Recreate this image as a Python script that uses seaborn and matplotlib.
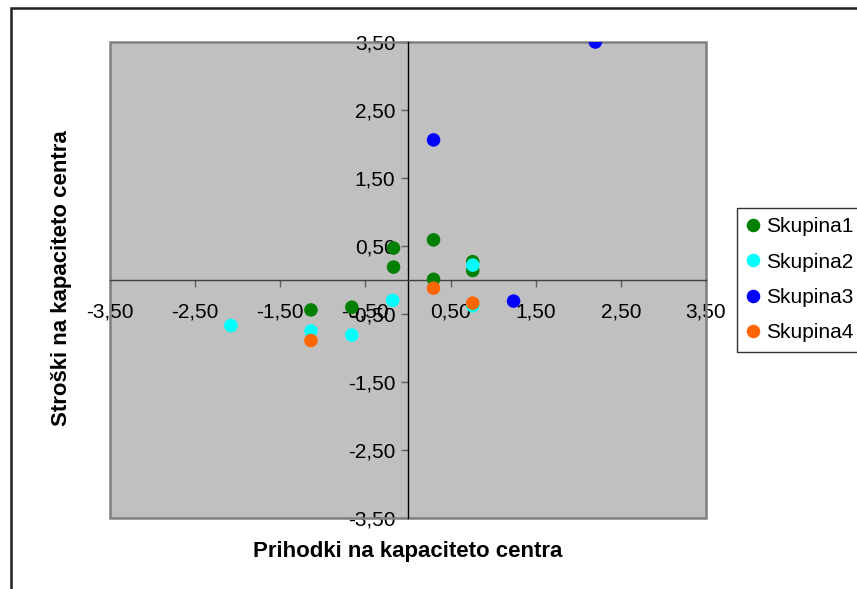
import numpy as np
import pandas as pd
import matplotlib
matplotlib.use("Agg")
import matplotlib.pyplot as plt
import seaborn as sns
from matplotlib.patches import Rectangle
from matplotlib.ticker import FuncFormatter

# values
groups = ["Skupina1", "Skupina2", "Skupina3", "Skupina4"]
skupina1_x = [-0.17, -0.17, -1.14, -0.66, 0.30, 0.30, 0.76, 0.76]
skupina1_y = [0.47, 0.19, -0.44, -0.40, 0.59, 0.01, 0.27, 0.14]
skupina2_x = [-0.18, -2.08, -1.14, -0.66, 0.76, 0.76]
skupina2_y = [-0.30, -0.67, -0.75, -0.81, 0.22, -0.38]
skupina3_x = [1.24, 0.30, 2.20]
skupina3_y = [-0.31, 2.06, 3.50]
skupina4_x = [-1.14, 0.30, 0.76]
skupina4_y = [-0.89, -0.12, -0.34]
ticks = [-3.5, -2.5, -1.5, -0.5, 0.5, 1.5, 2.5, 3.5]
colors = ["#008000", "#00FFFF", "#0000FF", "#FF6600"]

frames = []
for g, xs, ys in zip(groups,
                     [skupina1_x, skupina2_x, skupina3_x, skupina4_x],
                     [skupina1_y, skupina2_y, skupina3_y, skupina4_y]):
    frames.append(pd.DataFrame({"x": xs, "y": ys, "Skupina": g}))
df = pd.concat(frames, ignore_index=True)

sns.set_theme(style="white")
plt.rcParams["font.family"] = ["Liberation Sans", "DejaVu Sans"]
plt.rcParams["text.color"] = "black"
plt.rcParams["xtick.color"] = "black"
plt.rcParams["ytick.color"] = "black"

fig = plt.figure(figsize=(8.57, 5.89), dpi=100)
ax = fig.add_axes([110 / 857, 1 - 518 / 589, 596 / 857, 476 / 589])
ax.set_facecolor("#C0C0C0")

sns.scatterplot(data=df, x="x", y="y", hue="Skupina", hue_order=groups,
                palette=colors, s=95, linewidth=0, ax=ax, zorder=3)

ax.set_xlim(-3.5, 3.5)
ax.set_ylim(-3.5, 3.5)

# axes crossing at zero
for side in ["top", "right"]:
    ax.spines[side].set_visible(False)
ax.spines["bottom"].set_position(("data", 0))
ax.spines["left"].set_position(("data", 0))
ax.spines["bottom"].set_color("#404040")
ax.spines["left"].set_color("black")
ax.spines["bottom"].set_linewidth(1.0)
ax.spines["left"].set_linewidth(1.0)
ax.spines["bottom"].set_zorder(2)
ax.spines["left"].set_zorder(2)

# plot area border
ax.add_patch(Rectangle((0, 0), 1, 1, transform=ax.transAxes, fill=False,
                       edgecolor="#808080", linewidth=1.8, clip_on=False, zorder=1))

fmt = FuncFormatter(lambda v, p: f"{v:.2f}".replace(".", ","))
ax.set_xticks(ticks)
ax.set_yticks(ticks)
ax.xaxis.set_major_formatter(fmt)
ax.yaxis.set_major_formatter(fmt)
ax.tick_params(axis="x", direction="out", length=5, width=1, color="#606060",
               labelcolor="black", labelsize=15, pad=11, bottom=True)
ax.tick_params(axis="y", direction="out", length=5, width=1, color="#606060",
               labelcolor="black", labelsize=15, pad=4, left=True)
ax.set_xlabel("")
ax.set_ylabel("")

fig.text(408 / 857, 1 - 552 / 589, "Prihodki na kapaciteto centra",
         ha="center", va="center", fontsize=16, fontweight="bold", color="black")
fig.text(62 / 857, 1 - 278 / 589, "Stroški na kapaciteto centra",
         ha="center", va="center", rotation=90, fontsize=16, fontweight="bold",
         color="black")

handles, labels = ax.get_legend_handles_labels()
ax.get_legend().remove()
leg = fig.legend(handles, labels, loc="upper left",
                 bbox_to_anchor=(737 / 857, 1 - 208 / 589),
                 fontsize=15, frameon=True, fancybox=False, shadow=False,
                 handlelength=0.6, handletextpad=0.35, labelspacing=0.78,
                 borderpad=0.45, borderaxespad=0, markerscale=1.0)
leg.get_frame().set_edgecolor("black")
leg.get_frame().set_linewidth(1.0)
for t in leg.get_texts():
    t.set_color("black")

# outer chart border
fig.patches.append(Rectangle((11 / 857, -0.1), 1.2, 1.1 - 8 / 589,
                             transform=fig.transFigure, fill=False,
                             edgecolor="#202020", linewidth=1.8))

fig.savefig("out.png", dpi=100)
